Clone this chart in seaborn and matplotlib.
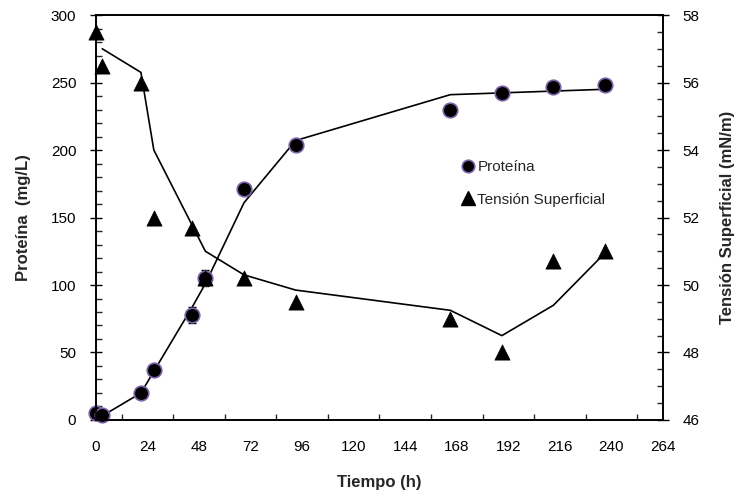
import numpy as np
import pandas as pd
import matplotlib
matplotlib.use("Agg")
import matplotlib.pyplot as plt
from matplotlib.lines import Line2D
from matplotlib.ticker import MultipleLocator
import seaborn as sns

# ---- data ----
tiempo = [0, 3, 21, 27, 45, 51, 69, 93, 165, 189, 213, 237]
proteina = [5, 4, 20, 37, 78, 105, 171, 204, 230, 242, 247, 248]
proteina_err = [2, 2, 2, 2, 6, 6, 2, 2, 4, 2, 2, 2]
tension = [57.5, 56.5, 56.0, 52.0, 51.7, 50.2, 50.2, 49.5, 49.0, 48.0, 50.7, 51.0]

prot_fit_t = [3, 21, 27, 45, 51, 69, 93, 165, 237]
prot_fit_v = [3, 20, 36, 84, 101, 161, 207, 241, 245]
ten_fit_t = [3, 21, 27, 51, 69, 93, 165, 189, 213, 237]
ten_fit_v = [57.0, 56.3, 54.0, 51.0, 50.3, 49.85, 49.25, 48.5, 49.4, 50.95]

xticks = list(range(0, 265, 24))

sns.set_theme(style="white")
plt.rcParams['font.family'] = ['Liberation Sans', 'DejaVu Sans']

fig = plt.figure(figsize=(7.37, 5.01), dpi=100)
ax = fig.add_axes([0.130, 0.1617, 0.7696, 0.8083])
ax2 = ax.twinx()

df_p = pd.DataFrame({"t": tiempo, "p": proteina})
df_t = pd.DataFrame({"t": tiempo, "s": tension})
df_pf = pd.DataFrame({"t": prot_fit_t, "p": prot_fit_v})
df_tf = pd.DataFrame({"t": ten_fit_t, "s": ten_fit_v})

edge = "#7b62a8"
sns.lineplot(data=df_pf, x="t", y="p", ax=ax, color="black", linewidth=1.2, zorder=2)
ax.errorbar(tiempo, proteina, yerr=proteina_err, fmt="none", ecolor="black",
            elinewidth=1.0, capsize=3, zorder=3)
sns.scatterplot(data=df_p, x="t", y="p", ax=ax, marker="o", s=110, color="black",
                edgecolor=edge, linewidth=1.2, zorder=4, clip_on=False)

sns.lineplot(data=df_tf, x="t", y="s", ax=ax2, color="black", linewidth=1.2, zorder=2)
sns.scatterplot(data=df_t, x="t", y="s", ax=ax2, marker="^", s=120, color="black",
                edgecolor="black", linewidth=0.5, zorder=4, clip_on=False)

ax.set_xlim(0, 264)
ax.set_ylim(0, 300)
ax2.set_ylim(46, 58)
ax.set_xticks(xticks)
ax.set_yticks(range(0, 301, 50))
ax2.set_yticks(range(46, 59, 2))
ax.xaxis.set_minor_locator(MultipleLocator(12))
ax.yaxis.set_minor_locator(MultipleLocator(10))
ax2.yaxis.set_minor_locator(MultipleLocator(0.5))

for a in (ax, ax2):
    for sp in a.spines.values():
        sp.set_visible(True)
        sp.set_color("black")
        sp.set_linewidth(1.2)

ax.tick_params(axis="x", which="major", direction="inout", length=7, width=1, labelsize=11, pad=11, colors="black")
ax.tick_params(axis="x", which="minor", direction="in", length=4, width=1, bottom=True)
ax.tick_params(axis="y", which="major", direction="inout", length=8, width=1, labelsize=11, pad=10, colors="black", left=True)
ax.tick_params(axis="y", which="minor", direction="in", length=4, width=1, left=True)
ax2.tick_params(axis="y", which="major", direction="inout", length=8, width=1, labelsize=11, pad=10, colors="black", right=True)
ax2.tick_params(axis="y", which="minor", direction="in", length=4, width=1, right=True)

ax.set_xlabel("Tiempo (h)", fontsize=12, fontweight="bold", labelpad=15)
ax.set_ylabel("Proteína  (mg/L)", fontsize=12, fontweight="bold", labelpad=14)
ax2.set_ylabel("Tensión Superficial (mN/m)", fontsize=12, fontweight="bold", labelpad=15)

handles = [
    Line2D([], [], marker="o", linestyle="none", markersize=9, markerfacecolor="black",
           markeredgecolor=edge, markeredgewidth=1.2),
    Line2D([], [], marker="^", linestyle="none", markersize=10, markerfacecolor="black",
           markeredgecolor="black"),
]
ax2.legend(handles, ["Proteína", "Tensión Superficial"], loc="upper left",
           bbox_to_anchor=(0.635, 0.66), frameon=False, fontsize=11,
           handlelength=0.6, handletextpad=0.3, labelspacing=1.2, borderpad=0)

fig.savefig("out.png", dpi=100)
